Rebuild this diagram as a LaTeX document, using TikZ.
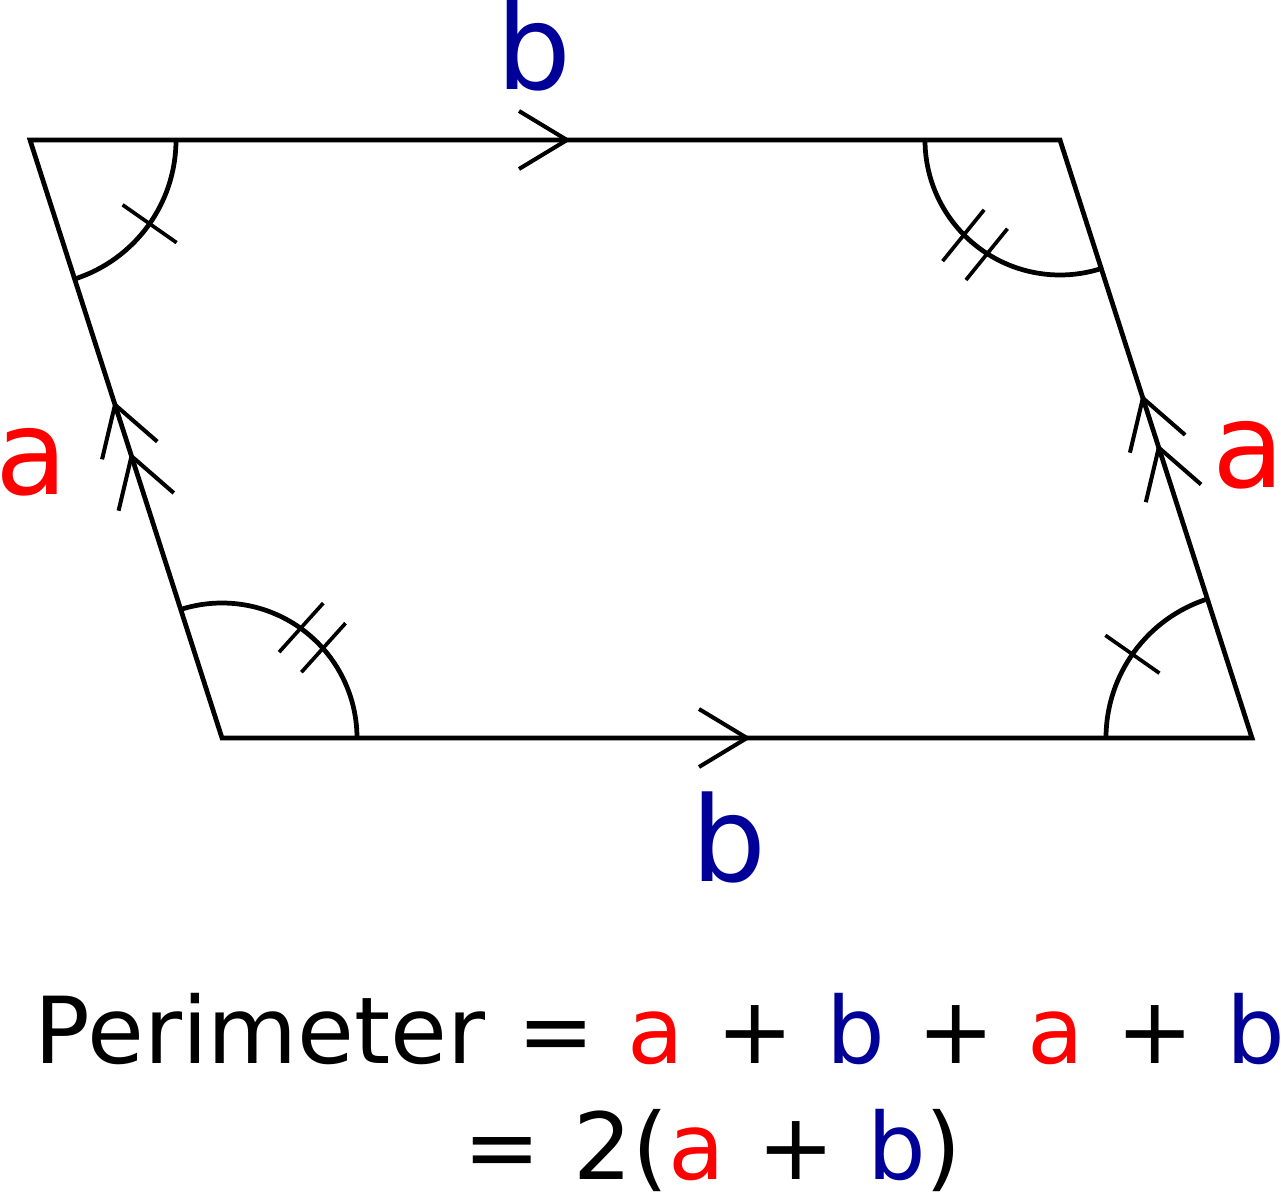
\documentclass[tikz,border=0pt]{standalone}
\usepackage{fontspec}
\setmainfont{DejaVu Sans}
\usetikzlibrary{calc}
\definecolor{sideA}{RGB}{255,0,0}
\definecolor{sideB}{RGB}{0,0,153}
\newcommand{\widesp}{\spaceskip=0.35em\relax}
\begin{document}
\begin{tikzpicture}[
  edge/.style={line width=1.35pt, line join=miter},
  anglearc/.style={line width=1.35pt},
  tickmark/.style={line width=1.05pt},
  chevron/.style={line width=1.15pt, line join=miter},
  lbl/.style={inner sep=0pt, anchor=base west, font=\fontsize{33.6}{40}\selectfont},
  formula/.style={inner sep=0pt, anchor=base west, font=\fontsize{26.3}{32}\selectfont},
  chev/.pic={\draw[chevron] (-0.48,0.29) -- (0,0) -- (-0.48,-0.29);}
]
\useasboundingbox (0,0) rectangle (12.81,12.00);
\coordinate (TL) at (0.30,10.60);
\coordinate (TR) at (10.60,10.60);
\coordinate (BR) at (12.52,4.62);
\coordinate (BL) at (2.22,4.62);

% parallelogram
\draw[edge] (TL) -- (TR) -- (BR) -- (BL) -- cycle;

% direction chevrons on the sides
\pic at ($(TL)!5.37cm!(TR)$) {chev};
\pic at ($(BL)!5.25cm!(BR)$) {chev};
\pic[rotate=107.8] at ($(BL)!3.50cm!(TL)$) {chev};
\pic[rotate=107.8] at ($(BL)!2.96cm!(TL)$) {chev};
\pic[rotate=107.8] at ($(BR)!3.57cm!(TR)$) {chev};
\pic[rotate=107.8] at ($(BR)!3.05cm!(TR)$) {chev};

% angle arcs
\draw[anglearc] ($(TL)+(0:1.46)$) arc[start angle=0, end angle=-72.2, radius=1.46cm];
\draw[anglearc] ($(BR)+(107.8:1.46)$) arc[start angle=107.8, end angle=180, radius=1.46cm];
\draw[anglearc] ($(TR)+(180:1.35)$) arc[start angle=180, end angle=287.8, radius=1.35cm];
\draw[anglearc] ($(BL)+(0:1.35)$) arc[start angle=0, end angle=107.8, radius=1.35cm];

% angle ticks
\begin{scope}[shift={(TL)}, rotate=-35]
  \draw[tickmark] (1.13,0) -- (1.79,0);
\end{scope}
\begin{scope}[shift={(BR)}, rotate=145]
  \draw[tickmark] (1.13,0) -- (1.79,0);
\end{scope}
\begin{scope}[shift={(TR)}, rotate=231]
  \draw[tickmark] (1.02,0.15) -- (1.68,0.15);
  \draw[tickmark] (1.02,-0.15) -- (1.68,-0.15);
\end{scope}
\begin{scope}[shift={(BL)}, rotate=48]
  \draw[tickmark] (1.02,0.15) -- (1.68,0.15);
  \draw[tickmark] (1.02,-0.15) -- (1.68,-0.15);
\end{scope}

% side labels
\node[lbl, text=sideB] (btop) at (4.96,11.10) {b};
\node[lbl, text=sideB] (bbot) at (6.91,3.18) {b};
\node[lbl, text=sideA] (aleft) at (-0.05,7.05) {a};
\node[lbl, text=sideA] (aright) at (12.12,7.12) {a};

% formula
\node[formula] (perim) at (0.34,1.37) {\widesp Perimeter = \textcolor{sideA}{a} + \textcolor{sideB}{b} + \textcolor{sideA}{a} + \textcolor{sideB}{b}};
\node[formula] (perim2) at (4.63,0.21) {\widesp = 2(\textcolor{sideA}{a} + \textcolor{sideB}{b})};
\end{tikzpicture}
\end{document}
